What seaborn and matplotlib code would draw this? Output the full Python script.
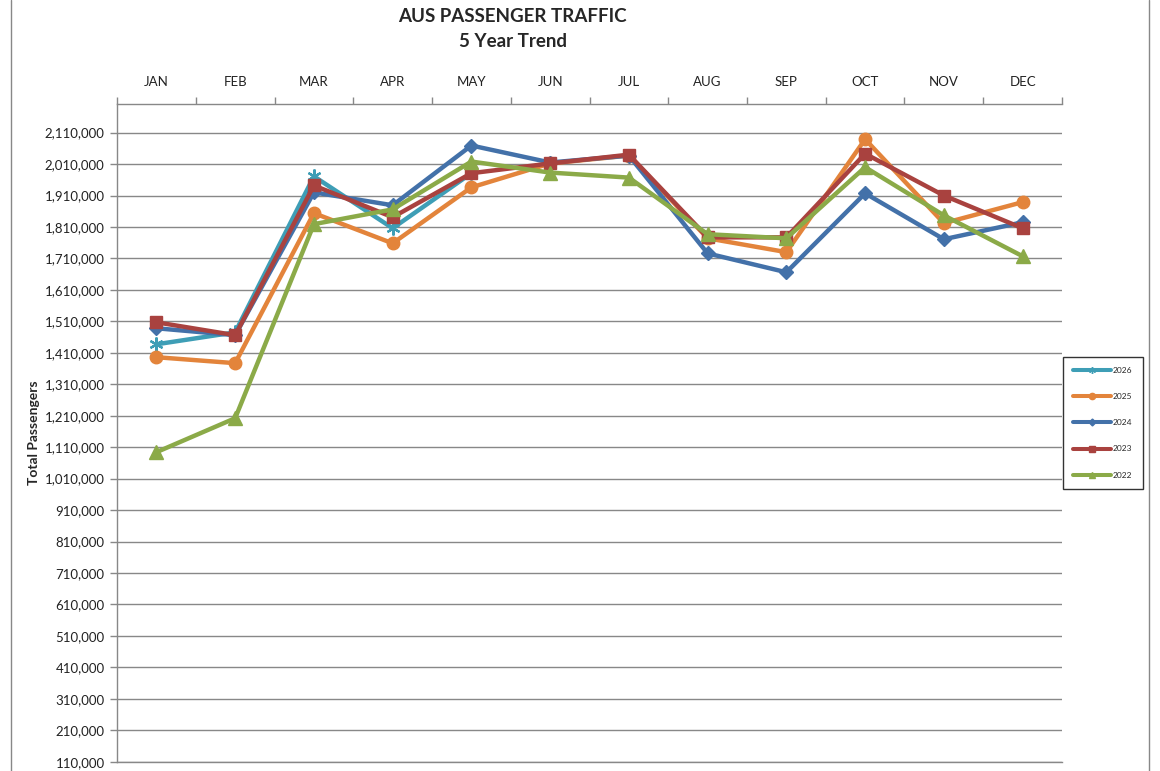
"""
AUS passenger traffic - 5 year trend
"""

import matplotlib
matplotlib.use('Agg')
import matplotlib.pyplot as plt
from matplotlib.lines import Line2D
from matplotlib.ticker import FuncFormatter, FixedLocator
import numpy as np
import pandas as pd
import seaborn as sns

# Données
months = ['JAN', 'FEB', 'MAR', 'APR', 'MAY', 'JUN',
          'JUL', 'AUG', 'SEP', 'OCT', 'NOV', 'DEC']
years = ['2026', '2025', '2024', '2023', '2022']

pax_2026 = [1437000, 1475000, 1971000, 1806000, 1981000]
pax_2025 = [1396000, 1377000, 1854000, 1758000, 1936000, 2012000,
            2037000, 1774000, 1730000, 2089000, 1822000, 1889000]
pax_2024 = [1488000, 1466000, 1920000, 1879000, 2069000, 2015000,
            2037000, 1726000, 1666000, 1917000, 1771000, 1825000]
pax_2023 = [1507000, 1466000, 1942000, 1841000, 1981000, 2012000,
            2040000, 1777000, 1777000, 2043000, 1910000, 1806000]
pax_2022 = [1094000, 1202000, 1819000, 1866000, 2018000, 1983000,
            1967000, 1787000, 1774000, 2000000, 1847000, 1717000]

series = {'2026': pax_2026, '2025': pax_2025, '2024': pax_2024,
          '2023': pax_2023, '2022': pax_2022}

# Style des séries
colors = {'2026': '#3E9EB6', '2025': '#E3843B', '2024': '#4371A9',
          '2023': '#A9423F', '2022': '#8BAA48'}
markers = {'2026': (6, 2, 0), '2025': 'o', '2024': 'D', '2023': 's', '2022': '^'}
msizes = {'2026': 10, '2025': 9, '2024': 7, '2023': 9, '2022': 10}

rows = []
for yr in years:
    for i, v in enumerate(series[yr]):
        rows.append({'year': yr, 'month_idx': i, 'pax': v})
data = pd.DataFrame(rows)

sns.set_theme(style='white')
plt.rcParams['font.family'] = ['Lato', 'DejaVu Sans']

fig = plt.figure(figsize=(11.6, 7.71), dpi=100)
ax = fig.add_axes([0.1009, 0.0121, 0.8146, 0.8526])

for yr in years:
    sub = data[data['year'] == yr]
    sns.lineplot(data=sub, x='month_idx', y='pax', ax=ax,
                 color=colors[yr], linewidth=3.2,
                 marker=markers[yr], markersize=msizes[yr],
                 markeredgecolor=colors[yr],
                 markeredgewidth=1.6 if yr == '2026' else 1,
                 label=yr, legend=False)

# Axes
ax.set_xlim(-0.5, 11.5)
ax.set_ylim(110000, 2200000)
ax.yaxis.set_major_locator(FixedLocator(np.arange(110000, 2110001, 100000)))
ax.yaxis.set_major_formatter(FuncFormatter(lambda v, p: f'{v:,.0f}'))
ax.grid(axis='y', color='#888888', linewidth=1)
ax.set_axisbelow(True)

ax.xaxis.tick_top()
ax.set_xticks(range(12))
ax.set_xticklabels(months)
ax.set_xticks(np.arange(-0.5, 12, 1), minor=True)
ax.tick_params(axis='x', which='major', length=0, pad=12,
               labelsize=9.5, labelcolor='#222222')
ax.tick_params(axis='x', which='minor', length=5, width=1,
               color='#888888', direction='out', top=True, bottom=False)
ax.tick_params(axis='y', which='major', length=5, width=1,
               color='#888888', direction='out', left=True,
               labelsize=9.5, labelcolor='#222222', pad=4)
ax.set_xlabel('')
ax.set_ylabel('Total Passengers', fontsize=10, fontweight='bold', labelpad=3)

for side in ['top', 'left', 'bottom']:
    ax.spines[side].set_color('#888888')
    ax.spines[side].set_linewidth(1)
ax.spines['right'].set_visible(False)

# Titre
fig.text(0.442, 0.978, 'AUS PASSENGER TRAFFIC', ha='center', va='center',
         fontsize=13.5, fontweight='bold')
fig.text(0.442, 0.946, '5 Year Trend', ha='center', va='center',
         fontsize=13.5, fontweight='bold')

# Légende
handles = [Line2D([0], [0], color=colors[yr], linewidth=2.9,
                  marker=markers[yr], markersize=msizes[yr] * 0.5,
                  markeredgecolor=colors[yr]) for yr in years]
leg = fig.legend(handles, years, loc='upper left',
                 bbox_to_anchor=(0.9164, 0.537), fontsize=6,
                 frameon=True, fancybox=False, edgecolor='black',
                 handlelength=4.5, labelspacing=2.3, borderpad=1.2,
                 handletextpad=0.3, borderaxespad=0)
leg.get_frame().set_linewidth(1)

# Cadre du graphique
fig.add_artist(Line2D([11 / 1160, 11 / 1160], [0, 1], color='#888888', linewidth=1))
fig.add_artist(Line2D([1149 / 1160, 1149 / 1160], [0, 1], color='#888888', linewidth=1))

plt.savefig('out.png', dpi=100)
plt.close()
